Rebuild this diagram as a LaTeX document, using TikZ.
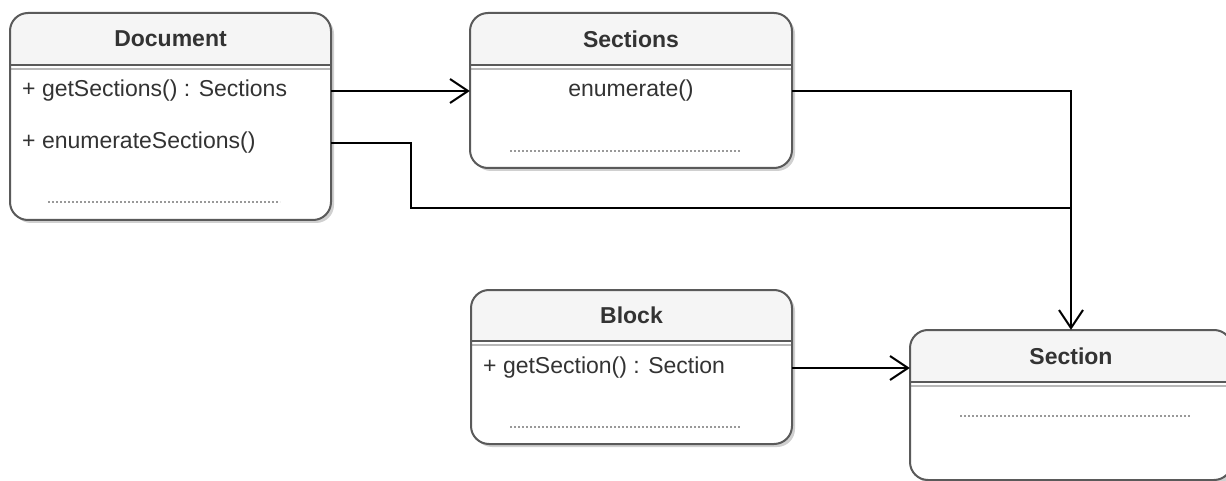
\documentclass[tikz,border=0pt]{standalone}
\usepackage{fontspec}
\setmainfont{Liberation Sans}
\usetikzlibrary{arrows.meta,fit}
\definecolor{borderc}{HTML}{5A5A5A}
\definecolor{headc}{HTML}{F5F5F5}
\definecolor{textc}{HTML}{333333}
\definecolor{shadc}{HTML}{D0D0D0}
\definecolor{sepc}{HTML}{B8B8B8}
\tikzset{
  x=1pt, y=-1pt,
  clsbox/.style={inner sep=0pt, fill=white},
  clsline/.style={draw=borderc, line width=2pt, rounded corners=18pt},
  titlec/.style={text=textc, font=\fontsize{23}{27}\selectfont\bfseries, inner sep=0pt},
  meth/.style={text=textc, font=\fontsize{23}{27}\selectfont, inner sep=0pt},
  dotln/.style={draw=gray!80, line width=1.2pt, dash pattern=on 2pt off 2pt},
  conn/.style={draw=black, line width=2pt, -{Straight Barb[length=18pt,width=24pt,line width=2pt]}},
  plain/.style={draw=black, line width=2pt},
}
\newcommand\umlcls[7]{%
  \fill[shadc, rounded corners=18pt] (#2+3,#3+3) rectangle (#4+3,#5+3);
  \node[clsbox, fit={(#2,#3) (#4,#5)}, rounded corners=18pt] (#1) {};
  \begin{scope}
    \clip (#2,#3) rectangle (#4,#6);
    \fill[headc, rounded corners=18pt] (#2,#3) rectangle (#4,#5);
  \end{scope}
  \draw[sepc, line width=2pt] (#2,#6+4) -- (#4,#6+4);
  \draw[borderc, line width=2pt] (#2,#6) -- (#4,#6);
  \draw[clsline] (#2,#3) rectangle (#4,#5);
  \node[titlec] (#1-t) at ({(#2+#4)/2},{(#3+#6)/2}) {#7};
}
\begin{document}
\begin{tikzpicture}
\useasboundingbox[fill=white] (0,0) rectangle (1226,481);

\umlcls{doc}{10}{13}{331}{220}{65}{Document}
\umlcls{secs}{470}{13}{792}{168}{65}{Sections}
\umlcls{blk}{471}{290}{792}{444}{341}{Block}
\umlcls{sec}{910}{330}{1232}{480}{382}{Section}

\node[meth, anchor=west] (m1) at (22,91) {+ getSections() : Sections};
\node[meth, anchor=west] (m2) at (22,143) {+ enumerateSections()};
\draw[dotln] (48,202) -- (280,202);

\node[meth] (m3) at (631,91) {enumerate()};
\draw[dotln] (510,151) -- (740,151);

\node[meth, anchor=west] (m4) at (483,368) {+ getSection() : Section};
\draw[dotln] (510,427) -- (740,427);

\draw[dotln] (960,416) -- (1190,416);

\coordinate (bend) at (411,208);
\draw[conn] (m1 -| doc.east) -- (m1 -| secs.west);
\draw[conn] (m3 -| secs.east) -| (sec.north);
\draw[plain] (m2 -| doc.east) -| (bend) -- (bend -| sec.north);
\draw[conn] (m4 -| blk.east) -- (m4 -| sec.west);
\end{tikzpicture}
\end{document}
